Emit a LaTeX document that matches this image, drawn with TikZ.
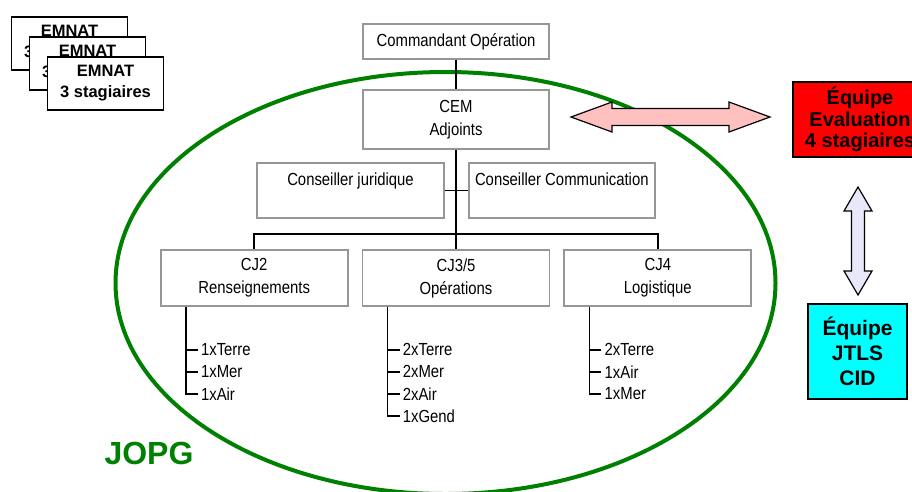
\documentclass[tikz,border=0pt]{standalone}
\usepackage{fontspec}
\setmainfont{Liberation Sans}
\newfontfamily\narrowsf{Liberation Sans}[FakeStretch=0.85]
\usetikzlibrary{positioning}

\definecolor{boxgray}{RGB}{150,150,150}
\definecolor{jopggreen}{RGB}{0,128,0}
\definecolor{pinkfill}{RGB}{255,192,192}
\definecolor{lavfill}{RGB}{232,232,250}
\definecolor{evalred}{RGB}{255,0,0}
\definecolor{jtlscyan}{RGB}{0,255,255}

\begin{document}
\begin{tikzpicture}[x=1pt,y=-1pt,line width=1.5pt]
    \tikzstyle{box}=[draw=boxgray, line width=1.8pt, fill=white, inner sep=0pt, minimum width=186pt, align=center, font=\narrowsf\fontsize{17.5}{23}\selectfont]
    \tikzstyle{item}=[anchor=west, inner sep=2.5pt, font=\narrowsf\fontsize{17.5}{22}\selectfont]
    \tikzstyle{emnat}=[draw, fill=white, line width=1.5pt, minimum width=116pt, minimum height=53pt, align=center, font=\bfseries\fontsize{16.5}{21}\selectfont]
    \tikzstyle{team}=[draw, line width=1.5pt, align=center, font=\bfseries\fontsize{20}{21.5}\selectfont]
    \tikzstyle{bigarrow}=[draw, line width=1.2pt, line join=miter]

    \useasboundingbox (0,0) rectangle (912,491);

    % JOPG ellipse
    \draw[jopggreen, line width=4pt] (445.5,283) ellipse [x radius=330, y radius=211];
    \node[font=\bfseries\fontsize{32}{32}\selectfont, text=jopggreen] (jopg) at (149,453) {JOPG};

    % staff tree
    \node[box, minimum height=35pt] (cmd) at (456,41.5) {Commandant Opération};
    \node[box, minimum height=59pt, below=29pt of cmd] (cem) {CEM\\Adjoints};
    \node[box, minimum width=187pt, minimum height=55pt] (juri) at (350.5,190.5) {Conseiller juridique\\ \mbox{}};
    \node[box, minimum height=55pt, right=23pt of juri] (comm) {Conseiller Communication\\ \mbox{}};
    \node[box, minimum width=187pt, minimum height=56pt] (cj35) at (456,278) {CJ3/5\\Opérations};
    \node[box, minimum width=187pt, minimum height=56pt, left=13pt of cj35] (cj2) {CJ2\\Renseignements};
    \node[box, minimum width=187pt, minimum height=56pt, right=13pt of cj35] (cj4) {CJ4\\Logistique};
    \coordinate (bus) at (456,234);

    \draw (cmd) -- (cem);
    \draw (cem) -- (cj35);
    \draw (juri.east) -- (comm.west);
    \draw (cj2.north) |- (bus) -| (cj4.north);

    \foreach \b/\list in {cj2/{1xTerre,1xMer,1xAir}, cj35/{2xTerre,2xMer,2xAir,1xGend}, cj4/{2xTerre,1xAir,1xMer}}
        \foreach \t [count=\i] in \list {
            \node[item] (\b-\i) at ([shift={(38,{21+22*\i})}]\b.south west) {\t};
            \draw ([xshift=26pt]\b.south west) |- (\b-\i.west);
        }

    % EMNAT stack
    \node[emnat] (emnat1) at (69.5,43.5) {EMNAT\\3 stagiaires};
    \node[emnat] (emnat2) at ([shift={(18,20)}]emnat1) {EMNAT\\3 stagiaires};
    \node[emnat] (emnat3) at ([shift={(18,20)}]emnat2) {EMNAT\\3 stagiaires};

    % teams
    \node[team, fill=evalred, minimum width=134pt, minimum height=75pt] (eval) at (860,119.5) {Équipe\\Evaluation\\4 stagiaires};
    \node[team, fill=jtlscyan, minimum width=99pt, minimum height=95pt, font=\bfseries\fontsize{21}{25}\selectfont] (jtls) at (857.5,351.5) {Équipe\\JTLS\\CID};

    % double arrows
    \coordinate (evl) at (571,117);
    \coordinate (evr) at (770,117);
    \draw[bigarrow, fill=pinkfill] (evl) -- ++(41,-15) -- ++(0,6.5) -- ++(117,0) -- ++(0,-6.5) -- (evr)
        -- ++(-41,15) -- ++(0,-6.5) -- ++(-117,0) -- ++(0,6.5) -- cycle;
    \coordinate (jtlst) at (858,187);
    \coordinate (jtlsb) at (858,295);
    \draw[bigarrow, fill=lavfill] (jtlst) -- ++(14,24) -- ++(-7.5,0) -- ++(0,60) -- ++(7.5,0) -- (jtlsb)
        -- ++(-14,-24) -- ++(7.5,0) -- ++(0,-60) -- ++(-7.5,0) -- cycle;
\end{tikzpicture}
\end{document}
